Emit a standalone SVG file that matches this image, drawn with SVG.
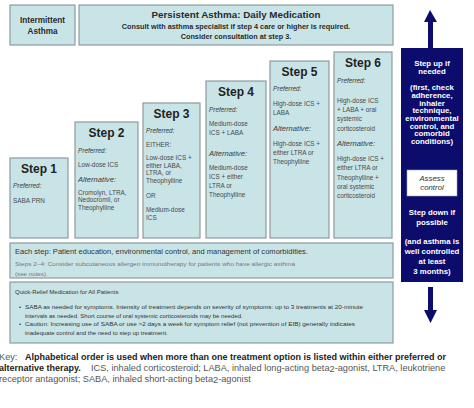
<svg xmlns="http://www.w3.org/2000/svg" width="474" height="408" viewBox="0 0 474 408">
<defs>
<style>
text{font-family:"Liberation Sans",Arial,sans-serif}
.box{fill:#c9e4e7;stroke:#8d9c9e;stroke-width:1.2}
.hd{font-weight:bold;fill:#2a2a2a;text-anchor:middle}
.st{font-weight:bold;font-size:12px;fill:#222;text-anchor:middle}
.tx{font-size:6.4px;fill:#4a4a4a}
.it{font-size:6.4px;fill:#3a3a3a;font-style:italic}
.ia{font-size:7.6px;fill:#3a3a3a;font-style:italic}
.wt{font-size:7.8px;fill:#fff;font-weight:bold;text-anchor:middle}
.sm{font-size:6px;fill:#333}
.sg{font-size:6.2px;fill:#777}
.kr{font-size:9.2px;fill:#555}
.kb{font-size:9px;font-weight:bold;fill:#222}
</style>
</defs>
<rect width="474" height="408" fill="#fff"/>
<g id="intermittent">
<rect class="box" x="10" y="5" width="65" height="40"/>
<text class="hd" x="42.5" y="23" font-size="8.2">Intermittent</text>
<text class="hd" x="42.5" y="34" font-size="8.2">Asthma</text>
</g>
<g id="persistent">
<rect class="box" x="79" y="5" width="314" height="40"/>
<text class="hd" x="236" y="17.5" font-size="9.8">Persistent Asthma: Daily Medication</text>
<text class="hd" x="236" y="29" font-size="7.3">Consult with asthma specialist if step 4 care or higher is required.</text>
<text class="hd" x="236" y="38.5" font-size="7.3">Consider consultation at step 3.</text>
</g>
<g id="step1">
<rect class="box" x="10" y="158" width="58" height="80"/>
<text class="st" x="39" y="173">Step 1</text>
<text class="it" x="13" y="187.5">Preferred:</text>
<text class="tx" x="13" y="202.5">SABA PRN</text>
</g>
<g id="step2">
<rect class="box" x="75" y="122" width="63" height="116"/>
<text class="st" x="106.5" y="137">Step 2</text>
<text class="it" x="78" y="152.5">Preferred:</text>
<text class="tx" x="78" y="166.5">Low-dose ICS</text>
<text class="ia" x="78" y="181.5">Alternative:</text>
<text class="tx" x="78" y="194.5">Cromolyn, LTRA,</text>
<text class="tx" x="78" y="202">Nedocromil, or</text>
<text class="tx" x="78" y="209.5">Theophylline</text>
</g>
<g id="step3">
<rect class="box" x="143" y="103" width="57" height="135"/>
<text class="st" x="171.5" y="117.5">Step 3</text>
<text class="it" x="146" y="132.5">Preferred:</text>
<text class="tx" x="146" y="146.5">EITHER:</text>
<text class="tx" x="146" y="160">Low-dose ICS +</text>
<text class="tx" x="146" y="167.5">either LABA,</text>
<text class="tx" x="146" y="175">LTRA, or</text>
<text class="tx" x="146" y="182.5">Theophylline</text>
<text class="tx" x="146" y="198">OR</text>
<text class="tx" x="146" y="212">Medium-dose</text>
<text class="tx" x="146" y="219.5">ICS</text>
</g>
<g id="step4">
<rect class="box" x="206" y="81" width="60" height="157"/>
<text class="st" x="236" y="96">Step 4</text>
<text class="it" x="209" y="111.5">Preferred:</text>
<text class="tx" x="209" y="125.5">Medium-dose</text>
<text class="tx" x="209" y="134.5">ICS + LABA</text>
<text class="ia" x="209" y="155.5">Alternative:</text>
<text class="tx" x="209" y="169.5">Medium-dose</text>
<text class="tx" x="209" y="178.5">ICS + either</text>
<text class="tx" x="209" y="187.5">LTRA or</text>
<text class="tx" x="209" y="197">Theophylline</text>
</g>
<g id="step5">
<rect class="box" x="270" y="61" width="59" height="177"/>
<text class="st" x="299.5" y="76">Step 5</text>
<text class="it" x="273" y="90.5">Preferred:</text>
<text class="tx" x="273" y="105.5">High-dose ICS +</text>
<text class="tx" x="273" y="114.5">LABA</text>
<text class="ia" x="273" y="130.5">Alternative:</text>
<text class="tx" x="273" y="145.5">High-dose ICS +</text>
<text class="tx" x="273" y="154.5">either LTRA or</text>
<text class="tx" x="273" y="163.5">Theophylline</text>
</g>
<g id="step6">
<rect class="box" x="334" y="52" width="58" height="186"/>
<text class="st" x="363" y="67">Step 6</text>
<text class="it" x="337" y="82.5">Preferred:</text>
<text class="tx" x="337" y="102.5">High-dose ICS</text>
<text class="tx" x="337" y="111.5">+ LABA + oral</text>
<text class="tx" x="337" y="121">systemic</text>
<text class="tx" x="337" y="130.5">corticosteroid</text>
<text class="ia" x="337" y="145.5">Alternative:</text>
<text class="tx" x="337" y="160.5">High-dose ICS +</text>
<text class="tx" x="337" y="170">either LTRA or</text>
<text class="tx" x="337" y="179.5">Theophylline +</text>
<text class="tx" x="337" y="188.5">oral systemic</text>
<text class="tx" x="337" y="198">corticosteroid</text>
</g>
<g id="each-step">
<rect class="box" x="10" y="243" width="383" height="35"/>
<text x="15" y="253.5" font-size="7.3" fill="#333" textLength="293" lengthAdjust="spacingAndGlyphs">Each step:  Patient education, environmental control, and management of comorbidities.</text>
<text class="sg" x="15" y="265.5" textLength="280" lengthAdjust="spacingAndGlyphs">Steps 2–4:  Consider subcutaneous allergen immunotherapy for patients who have allergic asthma</text>
<text class="sg" x="15" y="275.5">(see notes).</text>
</g>
<g id="quick-relief">
<rect class="box" x="10" y="282" width="383" height="61"/>
<text class="sm" x="15" y="294">Quick-Relief Medication for All Patients</text>
<text class="sm" x="19" y="309">•</text>
<text class="sm" x="25" y="309" textLength="338" lengthAdjust="spacingAndGlyphs">SABA as needed for symptoms. Intensity of treatment depends on severity of symptoms: up to 3 treatments at 20-minute</text>
<text class="sm" x="25" y="317.5">intervals as needed. Short course of oral systemic corticosteroids may be needed.</text>
<text class="sm" x="19" y="326">•</text>
<text class="sm" x="25" y="326" textLength="330" lengthAdjust="spacingAndGlyphs">Caution: Increasing use of SABA or use &gt;2 days a week for symptom  relief (not prevention of EIB) generally indicates</text>
<text class="sm" x="25" y="334.5">inadequate control and the need to step up treatment.</text>
</g>
<g id="control-panel">
<rect x="401" y="48" width="62" height="234" fill="#0c0c6c"/>
<text class="wt" x="432" y="66">Step up if</text>
<text class="wt" x="432" y="74">needed</text>
<text class="wt" x="432" y="90">(first, check</text>
<text class="wt" x="432" y="97.5">adherence,</text>
<text class="wt" x="432" y="105.5">inhaler</text>
<text class="wt" x="432" y="113">technique,</text>
<text class="wt" x="432" y="121">environmental</text>
<text class="wt" x="432" y="128.5">control, and</text>
<text class="wt" x="432" y="136">comorbid</text>
<text class="wt" x="432" y="144">conditions)</text>
<rect x="407" y="170" width="50" height="26" fill="#fff" stroke="#9aa" stroke-width="0.6"/>
<text x="432" y="181" font-size="7.8" fill="#333" font-style="italic" text-anchor="middle">Assess</text>
<text x="432" y="190" font-size="7.8" fill="#333" font-style="italic" text-anchor="middle">control</text>
<text class="wt" x="432" y="215">Step down if</text>
<text class="wt" x="432" y="225">possible</text>
<text class="wt" x="432" y="243.5">(and asthma is</text>
<text class="wt" x="432" y="253.5">well controlled</text>
<text class="wt" x="432" y="263.5">at least</text>
<text class="wt" x="432" y="273.5">3 months)</text>
</g>
<g id="connectors">
<path d="M430 10 L424 22 L428 22 L428 48 L433 48 L433 22 L437 22 Z" fill="#0c0c6c"/>
<path d="M428 287 L433 287 L433 310 L437 310 L430.5 323 L424 310 L428 310 Z" fill="#0c0c6c"/>
</g>
<g id="key">
<text x="-1" y="359.5"><tspan class="kr">Key:  </tspan><tspan class="kb" x="25">Alphabetical order is used when more than one treatment option is listed within either preferred or</tspan></text>
<text x="-1" y="370.5"><tspan class="kb">alternative therapy.</tspan><tspan class="kr" x="91">ICS, inhaled corticosteroid; LABA, inhaled long-acting beta</tspan><tspan class="kr" font-size="5.5" dy="1.5">2</tspan><tspan class="kr" dy="-1.5">-agonist, LTRA, leukotriene</tspan></text>
<text x="-1" y="381.5"><tspan class="kr">receptor antagonist; SABA, inhaled short-acting beta</tspan><tspan class="kr" font-size="5.5" dy="1.5">2</tspan><tspan class="kr" dy="-1.5">-agonist</tspan></text>
</g>
</svg>
